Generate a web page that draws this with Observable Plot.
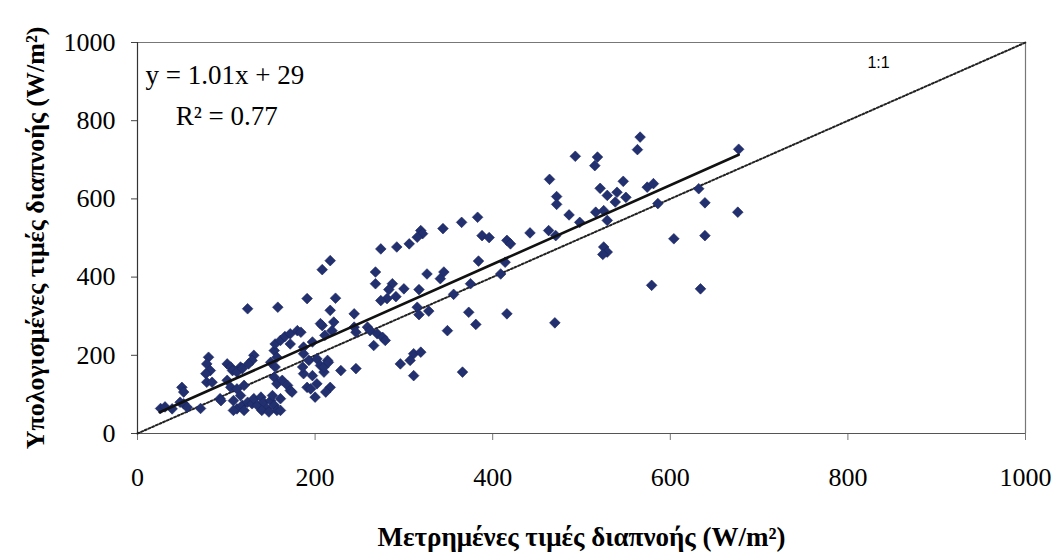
<!DOCTYPE html>
<html>
<head>
<meta charset="utf-8">
<script src="https://cdn.jsdelivr.net/npm/d3@7"></script>
<script src="https://cdn.jsdelivr.net/npm/@observablehq/plot@0.6"></script>
<style>
  html, body { margin: 0; padding: 0; background: #fff; }
</style>
</head>
<body>
<div id="chart"></div>
<script>
// Measured (x) and calculated (y) evapotranspiration values, W/m²
const measured = [
  26,31,39,48,50,52,52,56,71,80,78,82,77,78,84,93,94,
  101,105,107,116,112,101,105,112,120,131,129,125,116,108,112,118,124,124,118,108,120,129,
  131,139,135,142,150,154,157,146,140,152,161,148,161,154,157,150,155,161,166,172,180,172,187,154,157,163,169,172,187,191,158,155,174,
  191,223,217,208,219,211,184,197,187,193,202,206,214,210,229,217,186,197,202,195,200,212,210,215,217,208,221,206,
  244,244,246,259,262,270,276,279,266,246,296,274,292,268,268,287,283,291,281,274,
  306,319,321,315,326,300,317,315,317,328,311,307,319,311,344,345,341,349,356,366,365,
  566,563,493,518,515,464,547,521,574,581,529,540,550,538,472,472,586,486,516,525,529,498,383,442,463,471,388,396,416,420,604,525,529,524,384,414,409,375,579,373,416,381,470,
  632,639,676,639,634,677
];
const estimated = [
  64,68,63,80,118,106,76,67,64,195,178,161,153,131,131,89,84,
  178,170,161,170,157,136,118,114,123,200,187,178,97,84,63,72,80,319,166,59,59,76,
  89,93,72,80,84,72,59,63,59,97,89,55,59,212,195,182,229,238,248,255,263,229,221,144,127,136,123,110,153,118,323,170,106,
  345,346,315,276,263,251,259,234,204,187,191,174,187,157,161,118,170,148,127,114,93,106,170,182,442,419,285,281,
  306,272,259,272,263,255,246,238,225,166,178,472,477,413,383,383,368,350,345,340,
  485,519,511,502,408,370,368,323,304,313,204,187,208,148,524,413,396,263,356,157,540,
  758,726,709,707,685,650,645,627,630,639,609,617,604,592,606,586,588,559,566,570,545,540,553,513,519,506,506,501,494,485,498,477,464,458,441,438,408,383,379,310,306,279,283,
  626,590,566,506,370,727
];
const xTicks = [0, 200, 400, 600, 800, 1000];
const yTicks = [0, 200, 400, 600, 800, 1000];
const fitSlope = 1.01;
const fitIntercept = 29;
const fitExtent = [25, 677];
const oneToOneExtent = [0, 1000];
const equationText = "y = 1.01x + 29";
const r2Text = "R² = 0.77";
const oneToOneLabel = "1:1";
const xLabel = "Μετρημένες τιμές διαπνοής (W/m²)";
const yLabel = "Υπολογισμένες τιμές διαπνοής (W/m²)";

const points = measured.map((m, i) => ({m, e: estimated[i]}));
const fitLine = fitExtent.map(x => ({x, y: fitSlope * x + fitIntercept}));
const idLine = oneToOneExtent.map(v => ({x: v, y: v}));

const serif = "'Liberation Serif', 'Times New Roman', serif";

const chart = Plot.plot({
  width: 1060,
  height: 557,
  marginLeft: 137,
  marginRight: 35,
  marginTop: 42,
  marginBottom: 124,
  x: {domain: [0, 1000]},
  y: {domain: [0, 1000]},
  style: {fontFamily: serif, fontSize: "26px", background: "#fff", color: "#000", overflow: "visible"},
  marks: [
    Plot.ruleY([1000], {stroke: "#777", strokeWidth: 1.2}),
    Plot.ruleX([1000], {stroke: "#777", strokeWidth: 1.2}),
    Plot.axisY({ticks: yTicks, tickSize: 6, tickPadding: 16, tickFormat: "d", label: null, fontSize: 26, stroke: "#444"}),
    Plot.axisX({ticks: xTicks, tickSize: 7, tickPadding: 27, tickFormat: "d", label: null, fontSize: 26, stroke: "#777"}),
    Plot.ruleX([0], {stroke: "#333", strokeWidth: 1.2}),
    Plot.ruleY([0], {stroke: "#555", strokeWidth: 1.2}),
    Plot.line(idLine, {x: "x", y: "y", stroke: "#222", strokeWidth: 2, strokeDasharray: "2 2"}),
    Plot.dot(points, {x: "m", y: "e", symbol: "diamond2", r: 4.8, fill: "#22306f", stroke: "#1a2560", strokeWidth: 0.6}),
    Plot.line(fitLine, {x: "x", y: "y", stroke: "#111", strokeWidth: 2.6}),
    Plot.text([equationText], {x: 9, y: 895, textAnchor: "start", lineAnchor: "bottom", fontSize: 27, fill: "#000"}),
    Plot.text([r2Text], {x: 43, y: 788, textAnchor: "start", lineAnchor: "bottom", fontSize: 27, fill: "#000"}),
    Plot.text([oneToOneLabel], {x: 822, y: 936, textAnchor: "start", lineAnchor: "bottom", fontSize: 16, fontFamily: "'Liberation Sans', Arial, sans-serif", fill: "#000"}),
    Plot.text([xLabel], {frameAnchor: "bottom", dy: 112, textAnchor: "middle", lineAnchor: "bottom", fontSize: 27, fontWeight: "bold", fill: "#000"}),
    Plot.text([yLabel], {frameAnchor: "left", dx: -94, rotate: -90, textAnchor: "middle", lineAnchor: "bottom", fontSize: 26, fontWeight: "bold", fill: "#000"})
  ]
});

document.getElementById("chart").appendChild(chart);
</script>
</body>
</html>
